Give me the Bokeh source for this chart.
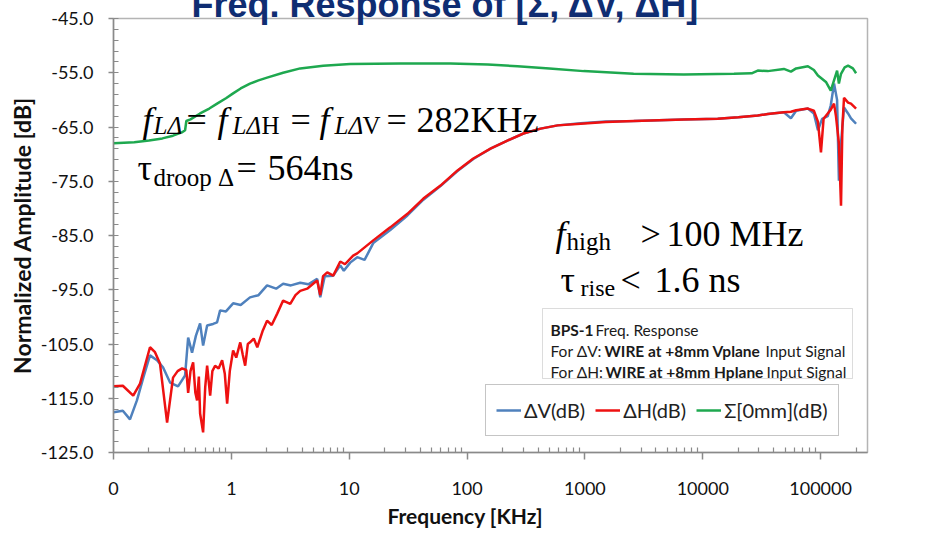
import math
from bokeh.plotting import figure
from bokeh.models import (FixedTicker, CustomJSTickFormatter, PrintfTickFormatter,
                          Label, BoxAnnotation, Legend, LegendItem, Title)
from bokeh.embed import file_html
from bokeh.resources import INLINE

# ---------------- data (frequency in KHz, amplitude in dB) ----------------
freq_v = [0.1, 0.12, 0.138, 0.158, 0.18, 0.204, 0.234, 0.263, 0.302, 0.353, 0.405, 0.43,
          0.464, 0.5, 0.543, 0.576, 0.623, 0.7, 0.757, 0.803, 0.9, 1.035, 1.2, 1.44, 1.7,
          2.01, 2.4, 2.75, 3.2, 3.84, 4.5, 5.35, 5.68, 6.2, 7.32, 8.4, 9.0, 10.2, 11.7,
          13.5, 16.0, 22.3, 31.2, 42.6, 59.5, 83, 113, 158, 220, 301, 421, 587, 920,
          1500, 2600, 3620, 6900, 13400, 20000, 29300, 35600, 48800, 56000, 62000, 78000,
          87700, 94900, 103000, 115000, 122000, 130000, 138000, 143000, 149000, 158000,
          171000, 181000, 200000]
db_v = [-117.6, -117.3, -118.9, -115.4, -111.0, -107.1, -108.0, -109.3, -112.1, -112.8,
        -110.8, -103.8, -106.6, -103.5, -101.2, -105.3, -101.6, -101.3, -101.0, -98.8,
        -99.0, -97.5, -97.8, -96.4, -96.0, -94.2, -94.8, -93.9, -94.2, -93.7, -94.0, -93.0,
        -96.4, -92.5, -92.4, -90.5, -91.5, -90.0, -89.0, -89.5, -86.4, -84.0, -81.3, -78.4,
        -75.9, -73.1, -70.9, -69.0, -67.5, -66.2, -65.3, -64.7, -64.3, -64.0, -63.9, -63.8,
        -63.6, -63.5, -63.2, -62.9, -62.6, -62.3, -63.4, -62.0, -61.6, -62.5, -65.6, -63.5,
        -63.0, -61.0, -57.0, -60.0, -74.9, -68.0, -61.4, -62.5, -63.4, -64.4]

freq_h = [0.1, 0.12, 0.147, 0.168, 0.204, 0.225, 0.248, 0.285, 0.32, 0.35, 0.382, 0.415,
          0.43, 0.45, 0.474, 0.495, 0.512, 0.53, 0.543, 0.576, 0.6, 0.623, 0.661, 0.69,
          0.728, 0.78, 0.835, 0.88, 0.921, 0.97, 1.035, 1.1, 1.19, 1.25, 1.31, 1.38, 1.44,
          1.55, 1.66, 1.85, 2.01, 2.2, 2.45, 2.75, 3.16, 3.5, 3.84, 4.4, 5.0, 5.35, 5.68,
          6.0, 6.51, 7.32, 8.4, 9.2, 10.8, 11.7, 16.0, 22.3, 31.2, 42.6, 59.5, 83, 113, 158,
          220, 301, 421, 587, 920, 1500, 2600, 3620, 6900, 13400, 20000, 29300, 35600,
          48800, 56000, 62000, 78000, 87700, 94900, 100700, 106000, 115000, 122000, 130000,
          135000, 143000, 149000, 153000, 158000, 171000, 181000, 200000]
db_h = [-112.8, -112.7, -114.5, -112.3, -105.6, -106.5, -108.6, -119.5, -111.2, -110.0,
        -109.5, -109.8, -114.0, -110.0, -108.4, -114.0, -115.4, -111.0, -117.8, -121.3,
        -113.0, -109.0, -114.5, -110.0, -109.0, -109.5, -108.0, -110.5, -116.0, -110.0,
        -106.2, -107.5, -104.7, -107.0, -109.0, -105.0, -104.7, -104.0, -105.6, -102.5,
        -100.7, -101.5, -99.4, -97.0, -97.6, -96.0, -95.2, -94.8, -93.8, -93.3, -96.0,
        -92.5, -91.8, -92.4, -89.8, -90.3, -88.7, -88.3, -85.9, -83.5, -81.0, -78.2, -75.8,
        -73.0, -70.8, -69.0, -67.5, -66.2, -65.3, -64.7, -64.4, -64.1, -63.9, -63.8, -63.6,
        -63.5, -63.2, -62.9, -62.6, -62.3, -62.2, -61.9, -61.6, -62.0, -64.0, -69.7, -63.5,
        -62.5, -61.8, -60.7, -63.0, -68.0, -79.5, -65.0, -59.6, -60.5, -60.7, -61.6]

freq_s = [0.1, 0.15, 0.2, 0.26, 0.32, 0.38, 0.405, 0.415, 0.45, 0.543, 0.65, 0.757, 0.9,
          1.035, 1.2, 1.44, 1.7, 2.01, 2.75, 3.84, 6.02, 10.2, 27.2, 72.3, 150, 268, 500,
          975, 2590, 6900, 18400, 26000, 29300, 35600, 48800, 56000, 62000, 78000, 87700,
          94900, 111000, 122000, 130000, 138000, 143000, 149000, 160000, 171000, 188000,
          200000]
db_s = [-68.0, -67.8, -67.5, -67.1, -66.6, -66.0, -65.6, -63.9, -63.6, -62.5, -61.6, -60.7,
        -59.7, -58.8, -57.9, -57.0, -56.4, -55.9, -55.0, -54.2, -53.7, -53.4, -53.3, -53.3,
        -53.5, -53.8, -54.2, -54.7, -55.2, -55.3, -55.2, -55.1, -54.6, -54.7, -54.3, -54.8,
        -54.2, -53.8, -54.5, -55.5, -56.7, -58.3, -56.4, -54.6, -57.0, -55.2, -54.0, -53.7,
        -54.2, -55.1]

series_names = ["ΔV(dB)", "ΔH(dB)", "Σ[0mm](dB)"]
x_ticks = [0.1, 1, 10, 100, 1000, 10000, 100000]
x_tick_labels = ["0", "1", "10", "100", "1000", "10000", "100000"]
y_ticks = [-125, -115, -105, -95, -85, -75, -65, -55, -45]

# ---------------- layout ----------------
W, H = 927, 541
FL, FR, FT, FB = 113, 867, 18, 452
X0, X1 = 0.1, 2.5e5
Y0, Y1 = -125.0, -45.0


def dx(px):
    return 10 ** (math.log10(X0) + (px - FL) / (FR - FL) * (math.log10(X1) - math.log10(X0)))


def dy(py):
    return Y1 - (py - FT) / (FB - FT) * (Y1 - Y0)


p = figure(width=W, height=H, x_axis_type="log", x_range=(X0, X1), y_range=(Y0, Y1),
           output_backend="svg", toolbar_location=None, title=None,
           min_border_left=FL, min_border_right=W - FR, min_border_top=FT,
           min_border_bottom=H - FB)
p.styles = {"outline": "1px solid #a6a6a6", "outline-offset": "-2px"}
p.xgrid.visible = False
p.ygrid.visible = False
p.background_fill_color = "white"
p.border_fill_color = "white"
p.outline_line_color = "#b4b4b4"
p.outline_line_width = 1.5

# title: a thin spacer next to the frame, then the big title (partly cut at the top)
NAVY = "#0f2d72"
p.add_layout(Title(text=" ", text_font_size="2px", standoff=10), "above")
p.add_layout(Title(text="Freq. Response of [Σ, ΔV, ΔH]", align="left", offset=191 - FL,
                   text_font="Liberation Sans", text_font_size="36px",
                   text_font_style="bold", text_color=NAVY, vertical_align="bottom",
                   standoff=-40), "above")

AX = "#8a8a8a"
x_minor = [m * 10 ** k for k in range(-1, 6) for m in range(2, 10) if m * 10 ** k <= X1]
y_minor = list(range(-125, -44, 2))

xa = p.xaxis[0]
xa.ticker = FixedTicker(ticks=x_ticks, minor_ticks=x_minor)
xa.formatter = CustomJSTickFormatter(args=dict(tv=x_ticks, tl=x_tick_labels), code="""
let best = 0, bd = Infinity;
for (let i = 0; i < tv.length; i++) {
  const d = Math.abs(Math.log10(tv[i]) - Math.log10(tick));
  if (d < bd) { bd = d; best = i; }
}
return tl[best];
""")
xa.major_tick_out = 7
xa.major_tick_in = 0
xa.minor_tick_in = 5
xa.minor_tick_out = 0
xa.major_label_standoff = 22

ya = p.yaxis[0]
ya.ticker = FixedTicker(ticks=y_ticks, minor_ticks=y_minor)
ya.formatter = PrintfTickFormatter(format="%.1f")
ya.major_tick_out = 5
ya.major_tick_in = 0
ya.minor_tick_in = 5
ya.minor_tick_out = 0
ya.major_label_standoff = 15
ya.axis_label = "Normalized Amplitude [dB]"
ya.axis_label_text_font = "Lato"
ya.axis_label_text_font_size = "23px"
ya.axis_label_text_font_style = "bold"
ya.axis_label_text_color = "#111111"
ya.axis_label_standoff = 2

for ax in (xa, ya):
    ax.axis_line_color = AX
    ax.axis_line_width = 1.5
    ax.major_tick_line_color = AX
    ax.major_tick_line_width = 1.5
    ax.minor_tick_line_color = AX
    ax.minor_tick_line_width = 1.2
    ax.major_label_text_font = "Lato"
    ax.major_label_text_font_size = "18px"
    ax.major_label_text_color = "#111111"

# x-axis title as a panel title below the axis (allows a horizontal offset)
p.add_layout(Title(text="Frequency [KHz]", align="left", offset=387 - FL,
                   text_font="Lato", text_font_size="21px", text_font_style="bold",
                   text_color="#111111", vertical_align="top", standoff=10), "below")

# ---------------- curves ----------------
rv = p.line(freq_v, db_v, line_color="#4f81bd", line_width=2.5)
rh = p.line(freq_h, db_h, line_color="#ee1111", line_width=2.5)
rs = p.line(freq_s, db_s, line_color="#1ea84f", line_width=2.5)


def lab(text, px, py, size, font="Liberation Serif", style="normal", color="black",
        align="left"):
    p.add_layout(Label(x=dx(px), y=dy(py), text=text, text_font=font,
                       text_font_size=f"{size}px", text_font_style=style,
                       text_color=color, text_baseline="alphabetic", text_align=align))


# formula line 1
B1, S1 = 119, 125
lab("f", 142, B1, 36, style="italic")
lab("LΔ", 153, S1, 25, style="italic")
lab("=", 186, B1, 36)
lab("f", 217, B1, 36, style="italic")
lab("LΔ", 232, S1, 25, style="italic")
lab("H", 261, S1, 25)
lab("=", 290, B1, 36)
lab("f", 319, B1, 36, style="italic")
lab("LΔ", 334, S1, 25, style="italic")
lab("V", 362, S1, 25)
lab("=", 386, B1, 36)
lab("282KHz", 416, B1, 36)

# formula line 2
lab("τ", 137, 167, 36)
lab("droop Δ", 153, 177, 25)
lab("=", 236, 167, 36)
lab("564ns", 267, 167, 36)

# formula line 3
lab("f", 555, 233, 36, style="italic")
lab("high", 566, 241, 25)
lab(">", 640, 233, 36)
lab("100 MHz", 666, 233, 36)

# formula line 4
lab("τ", 560, 279, 36)
lab("rise", 580, 287, 24)
lab("<", 620, 279, 36)
lab("1.6 ns", 654, 279, 36)

# ---------------- info box ----------------
p.add_layout(BoxAnnotation(left=dx(542), right=dx(852), top=dy(308), bottom=dy(378),
                           fill_color="white", fill_alpha=1, line_color="#8c8c8c",
                           line_width=1))
TC = "#1a1a1a"
lab("BPS-1", 550, 329, 15.5, font="Lato", style="bold", color=TC)
lab("Freq. Response", 595, 329, 15.5, font="Lato", color=TC)
lab("For ΔV:", 550, 350, 15.5, font="Lato", color=TC)
lab("WIRE at +8mm Vplane", 604, 350, 15.5, font="Lato", style="bold", color=TC)
lab("Input Signal", 765, 350, 15.5, font="Lato", color=TC)
lab("For ΔH:", 550, 371, 15.5, font="Lato", color=TC)
lab("WIRE at +8mm Hplane", 605, 371, 15.5, font="Lato", style="bold", color=TC)
lab("Input Signal", 766, 371, 15.5, font="Lato", color=TC)

# ---------------- legend ----------------
legend = Legend(items=[LegendItem(label=series_names[0], renderers=[rv]),
                       LegendItem(label=series_names[1], renderers=[rh]),
                       LegendItem(label=series_names[2], renderers=[rs])],
                location=(485 - FL, FB - 436), orientation="horizontal",
                padding=10, spacing=10, margin=0, glyph_width=25, glyph_height=20,
                label_standoff=3, label_height=30, label_text_font="Lato",
                label_text_font_size="20px", label_text_color="#222222",
                border_line_color="#8c8c8c", border_line_width=1,
                background_fill_color="white", background_fill_alpha=1)
p.add_layout(legend)

open("out.html", "w").write(file_html(p, INLINE))
